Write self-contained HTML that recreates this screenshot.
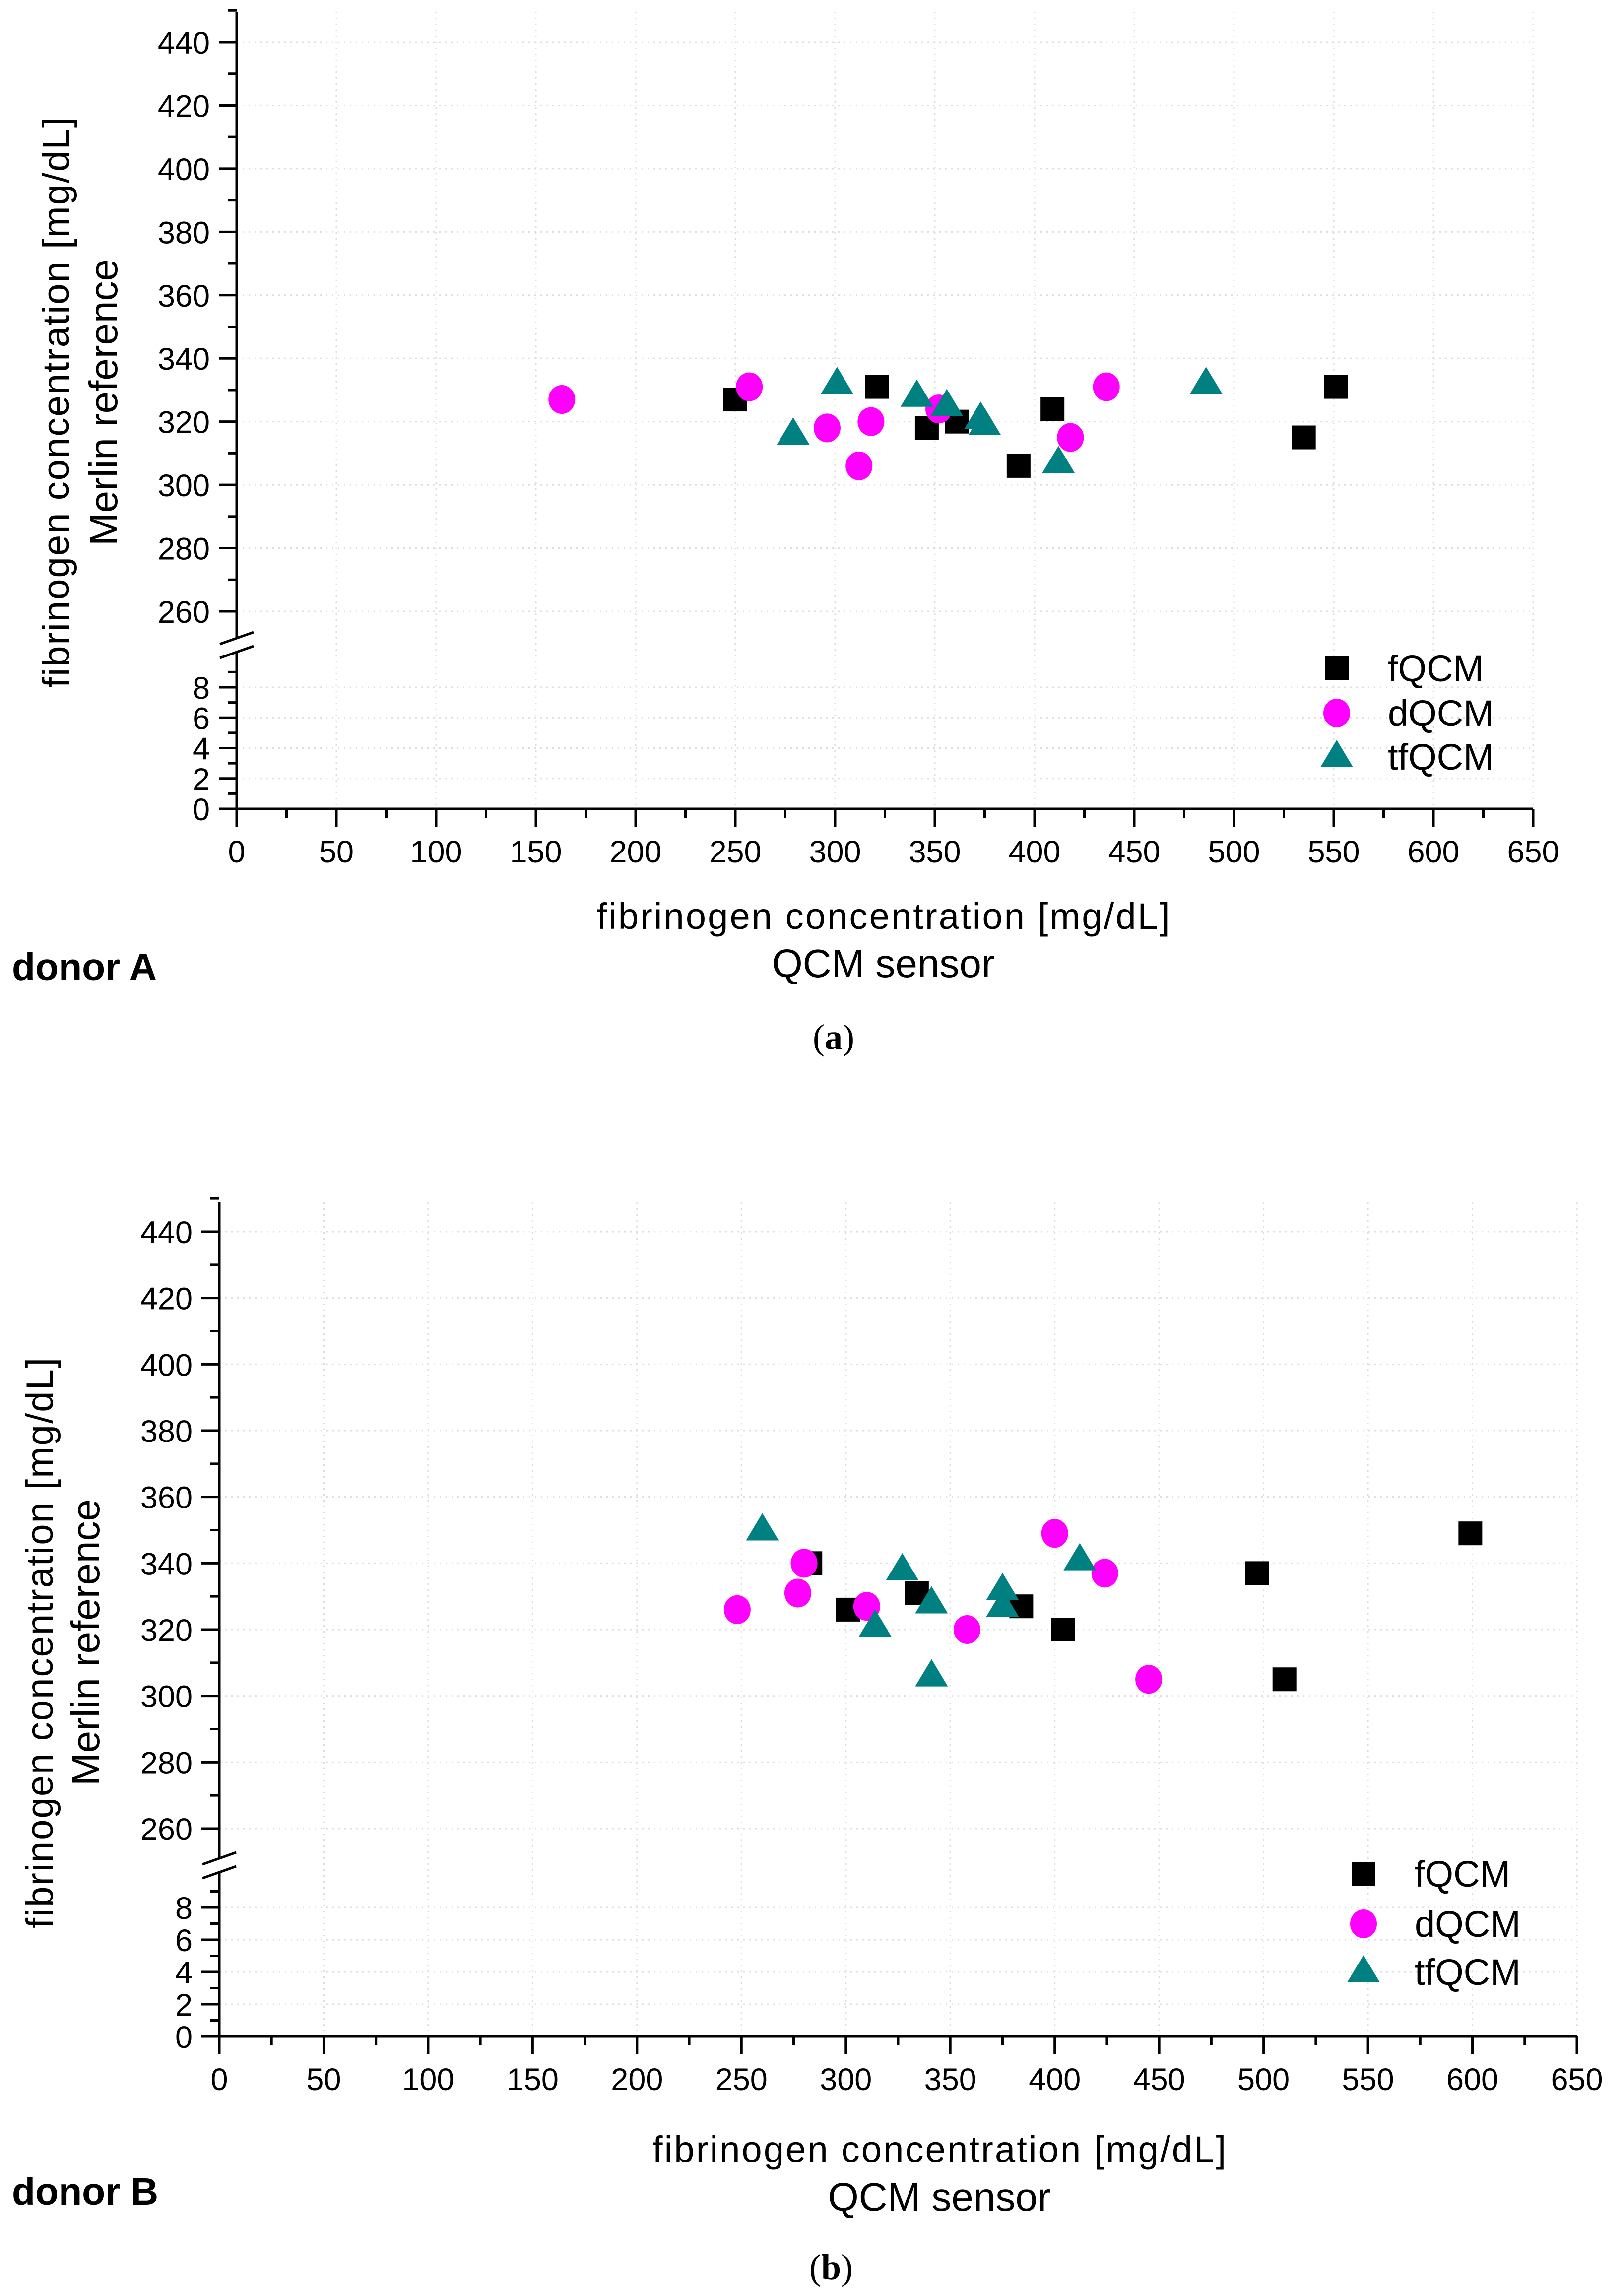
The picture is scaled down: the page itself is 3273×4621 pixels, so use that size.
<!DOCTYPE html>
<html><head><meta charset="utf-8"><style>
html,body{margin:0;padding:0;background:#fff;}
svg{display:block;font-family:"Liberation Sans",sans-serif;}
</style></head><body>
<svg id="fig" width="3273" height="4621" viewBox="0 0 3273 4621" xmlns="http://www.w3.org/2000/svg">
<rect width="3273" height="4621" fill="#fff"/>
<g id="pA"></g>
<g id="pB"></g>
<text x="24" y="1975" font-size="77" font-weight="bold">donor A</text>
<text x="1780" y="1872" font-size="74" text-anchor="middle" textLength="1155">fibrinogen concentration [mg/dL]</text>
<text x="1780" y="1969" font-size="80" text-anchor="middle">QCM sensor</text>
<text transform="translate(139,811) rotate(-90)" font-size="76" text-anchor="middle" textLength="1150">fibrinogen concentration [mg/dL]</text>
<text transform="translate(236,811) rotate(-90)" font-size="80" text-anchor="middle">Merlin reference</text>
<text x="1680" y="2114" font-size="72" text-anchor="middle" font-family="Liberation Serif, serif">(<tspan font-weight="bold">a</tspan>)</text>
<text x="24" y="4443" font-size="77" font-weight="bold">donor B</text>
<text x="1893" y="4357" font-size="74" text-anchor="middle" textLength="1156">fibrinogen concentration [mg/dL]</text>
<text x="1893" y="4455" font-size="80" text-anchor="middle">QCM sensor</text>
<text transform="translate(106,3311) rotate(-90)" font-size="76" text-anchor="middle" textLength="1150">fibrinogen concentration [mg/dL]</text>
<text transform="translate(200,3310) rotate(-90)" font-size="80" text-anchor="middle">Merlin reference</text>
<text x="1675" y="4593" font-size="72" text-anchor="middle" font-family="Liberation Serif, serif">(<tspan font-weight="bold">b</tspan>)</text>
</svg>
<script>
const seriesNames = ["fQCM","dQCM","tfQCM"];
const xTicks = [0,50,100,150,200,250,300,350,400,450,500,550,600,650];
const yTicksUpper = [260,280,300,320,340,360,380,400,420,440];
const yTicksLower = [0,2,4,6,8];
const aFx = [250,321,346,361,392,409,535,551];
const aFy = [327,331,318,320,306,324,315,331];
const aDx = [163,257,296,312,318,352,418,436];
const aDy = [327,331,318,306,320,324,315,331];
const aTx = [279,301,341,356,373,375,412,486];
const aTy = [316,332,328,325,321,319,307,332];
const bFx = [283,301,334,384,404,497,510,599];
const bFy = [340,326,331,327,320,337,305,349];
const bDx = [248,277,280,310,358,400,424,445];
const bDy = [326,331,340,327,320,349,337,305];
const bTx = [260,314,327,341,341,375,375,412];
const bTy = [350,321,338,328,306,332,327,341];

const NS="http://www.w3.org/2000/svg";
function mk(parent,tag,attrs){const e=document.createElementNS(NS,tag);for(const k in attrs)e.setAttribute(k,attrs[k]);parent.appendChild(e);return e;}

function panel(g,cfg,data,key){
  const X=v=>cfg.x0+(v-0)*(cfg.x650-cfg.x0)/650;
  const YU=v=>cfg.y260+(v-260)*(cfg.y440-cfg.y260)/180;
  const YL=v=>cfg.y0+v*(cfg.y8-cfg.y0)/8;
  const Y=v=>v>=200?YU(v):YL(v);
  const grid=mk(g,'g',{stroke:'#d8e0e0','stroke-width':3,'stroke-dasharray':'3 9'});
  
  
  xTicks.slice(1).forEach(t=>mk(grid,'line',{x1:X(t),x2:X(t),y1:cfg.top,y2:cfg.y0}));
  yTicksUpper.forEach(t=>mk(grid,'line',{x1:cfg.x0,x2:cfg.x650,y1:YU(t),y2:YU(t)}));
  yTicksLower.slice(1).forEach(t=>mk(grid,'line',{x1:cfg.x0,x2:cfg.x650,y1:YL(t),y2:YL(t)}));
  const ax=mk(g,'g',{stroke:'#000','stroke-width':5,fill:'none'});
  
  
  mk(ax,'line',{x1:cfg.x0,x2:cfg.x0,y1:cfg.top,y2:cfg.brk-14});
  mk(ax,'line',{x1:cfg.x0,x2:cfg.x0,y1:cfg.brk+14,y2:cfg.y0+36});
  mk(ax,'line',{x1:cfg.x0-36,x2:cfg.x650,y1:cfg.y0,y2:cfg.y0});
  mk(ax,'line',{x1:cfg.x0-34,x2:cfg.x0+34,y1:cfg.brk-2,y2:cfg.brk-26});
  mk(ax,'line',{x1:cfg.x0-34,x2:cfg.x0+34,y1:cfg.brk+26,y2:cfg.brk+2});
  for(let v=0;v<=650;v+=25){const major=v%50===0;mk(ax,'line',{x1:X(v),x2:X(v),y1:cfg.y0,y2:cfg.y0+(major?36:18)});}
  for(let v=260;v<=450;v+=10){const major=v%20===0;mk(ax,'line',{x1:cfg.x0,x2:cfg.x0-(major?36:18),y1:YU(v),y2:YU(v)});}
  for(let v=1;v<=9;v++){const major=v%2===0;mk(ax,'line',{x1:cfg.x0,x2:cfg.x0-(major?36:18),y1:YL(v),y2:YL(v)});}
  const tl=mk(g,'g',{'font-size':63,fill:'#000'});
  xTicks.forEach(t=>{const e=mk(tl,'text',{x:X(t),y:cfg.y0+108,'text-anchor':'middle'});e.textContent=t;
    
    });
  yTicksUpper.forEach(t=>{const e=mk(tl,'text',{x:cfg.x0-54,y:YU(t)+23,'text-anchor':'end'});e.textContent=t;
    
    });
  yTicksLower.forEach(t=>{const e=mk(tl,'text',{x:cfg.x0-54,y:YL(t)+23,'text-anchor':'end'});e.textContent=t;
    
    });
  const draw=(sg,shape,x,y)=>{
    if(shape===0) return mk(sg,'rect',{x:x-24,y:y-24,width:48,height:48,fill:'#000'});
    if(shape===1) return mk(sg,'ellipse',{cx:x,cy:y,rx:27,ry:29,fill:'#ff00ff'});
    return mk(sg,'polygon',{points:`${x},${y-34} ${x+33},${y+21} ${x-33},${y+21}`,fill:'#008080'});
  };
  data.forEach((s,i)=>{
    const sg=mk(g,'g',{});
    
    
    s[0].forEach((xv,j)=>{const m=draw(sg,i,X(xv),Y(s[1][j]));
      
      });
  });
  const lg=mk(g,'g',{});
  
  
  seriesNames.forEach((n,i)=>{
    const le=mk(lg,'g',{});
    
    
    draw(le,i,cfg.lx,cfg.ly[i]);
    const t=mk(le,'text',{x:cfg.lx+103,y:cfg.ly[i]+26,'font-size':74});t.textContent=n;
  });
}
panel(document.getElementById('pA'),{x0:477,x650:3090,y260:1232,y440:85,y0:1630,y8:1385,top:24,brk:1300,lx:2694,ly:[1347,1437,1525]},
  [[aFx,aFy],[aDx,aDy],[aTx,aTy]],'a');
panel(document.getElementById('pB'),{x0:442,x650:3178,y260:3685,y440:2482,y0:4104,y8:3844,top:2423,brk:3759,lx:2748,ly:[3776,3877,3974]},
  [[bFx,bFy],[bDx,bDy],[bTx,bTy]],'b');
</script>
</body></html>
